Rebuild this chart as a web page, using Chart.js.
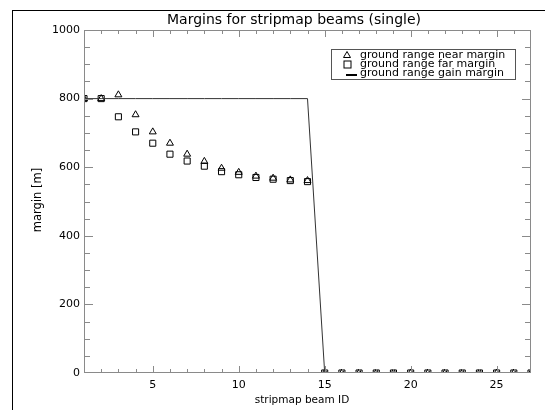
<!DOCTYPE html>
<html>
<head>
<meta charset="utf-8">
<script src="https://cdn.jsdelivr.net/npm/chart.js@4/dist/chart.umd.min.js"></script>
<style>
  html, body { margin: 0; padding: 0; background: #fff; }
  #wrap { position: relative; width: 545px; height: 410px; overflow: hidden; }
  #frame { position: absolute; left: 12px; top: 10px; width: 600px; height: 500px;
           border-left: 1px solid #000; border-top: 1px solid #000; }
  #chart { position: absolute; left: 0; top: 0; }
</style>
</head>
<body>
<div id="wrap">
  <div id="frame"></div>
  <canvas id="chart" width="545" height="410"></canvas>
</div>
<script>
// beam IDs 1..27
const beamIds = [1, 2, 3, 4, 5, 6, 7, 8, 9, 10, 11, 12, 13, 14, 15, 16, 17, 18, 19, 20, 21, 22, 23, 24, 25, 26, 27];

// margins [m]
const nearMargin = [800, 800, 811, 753, 703, 670, 638, 617, 597, 585, 574, 568, 563, 561, 0, 0, 0, 0, 0, 0, 0, 0, 0, 0, 0, 0, 0];
const farMargin  = [800, 800, 747, 703, 670, 638, 618, 603, 587, 578, 570, 565, 561, 558, 0, 0, 0, 0, 0, 0, 0, 0, 0, 0, 0, 0, 0];
const gainMargin = [800, 800, 800, 800, 800, 800, 800, 800, 800, 800, 800, 800, 800, 800, 0, 0, 0, 0, 0, 0, 0, 0, 0, 0, 0, 0, 0];

const xTickLabels = [5, 10, 15, 20, 25];
const yTickLabels = [0, 200, 400, 600, 800, 1000];
const xMinorTicks = [2, 3, 4, 5, 6, 7, 8, 9, 10, 11, 12, 13, 14, 15, 16, 17, 18, 19, 20, 21, 22, 23, 24, 25, 26];
const yMinorTicks = [50, 100, 150, 200, 250, 300, 350, 400, 450, 500, 550, 600, 650, 700, 750, 800, 850, 900, 950];

const legendItems = ['ground range near margin', 'ground range far margin', 'ground range gain margin'];

const FONT = '"DejaVu Sans", sans-serif';
const AXIS_GREY = '#8a8a8a';

function toPoints(values) {
    return beamIds.map((id, i) => ({ x: id, y: values[i] }));
}

// ==========================================================================
// IDL-style frame: box, inward ticks, title, axis titles and legend
// ==========================================================================
const idlDecor = {
    id: 'idlDecor',
    afterDatasetsDraw(chart) {
        const ctx = chart.ctx;
        const a = chart.chartArea;
        const xs = chart.scales.x;
        const ys = chart.scales.y;

        ctx.save();
        ctx.strokeStyle = AXIS_GREY;
        ctx.lineWidth = 1;
        ctx.strokeRect(a.left + 0.5, a.top + 0.5, a.right - a.left - 1, a.bottom - a.top - 1);

        ctx.beginPath();
        xMinorTicks.forEach(v => {
            const px = Math.round(xs.getPixelForValue(v)) + 0.5;
            const len = (v % 5 === 0) ? 7 : 4;
            ctx.moveTo(px, a.bottom);
            ctx.lineTo(px, a.bottom - len);
            ctx.moveTo(px, a.top);
            ctx.lineTo(px, a.top + len);
        });
        yMinorTicks.forEach(v => {
            const py = Math.round(ys.getPixelForValue(v)) + 0.5;
            const len = (v % 200 === 0) ? 9 : 6;
            ctx.moveTo(a.left, py);
            ctx.lineTo(a.left + len, py);
            ctx.moveTo(a.right, py);
            ctx.lineTo(a.right - len, py);
        });
        ctx.stroke();

        // titles
        ctx.fillStyle = '#000';
        ctx.font = '14px ' + FONT;
        ctx.textAlign = 'center';
        ctx.textBaseline = 'alphabetic';
        ctx.fillText('Margins for stripmap beams (single)', 294, 24);

        ctx.font = '10.5px ' + FONT;
        ctx.fillText('stripmap beam ID', 302, 403);

        ctx.save();
        ctx.translate(41, 200);
        ctx.rotate(-Math.PI / 2);
        ctx.font = '11.5px ' + FONT;
        ctx.fillText('margin [m]', 0, 0);
        ctx.restore();

        // legend box
        const lx = 331, ly = 49, lw = 184, lh = 30;
        ctx.fillStyle = '#fff';
        ctx.fillRect(lx, ly, lw, lh);
        ctx.strokeStyle = '#555';
        ctx.strokeRect(lx + 0.5, ly + 0.5, lw, lh);

        ctx.fillStyle = '#000';
        ctx.strokeStyle = '#000';
        ctx.font = '11px ' + FONT;
        ctx.textAlign = 'left';
        ctx.textBaseline = 'middle';
        const rowY = [55, 64, 73];
        legendItems.forEach((label, i) => {
            const cy = rowY[i];
            const cx = 347;
            ctx.beginPath();
            if (i === 0) {
                ctx.moveTo(cx, cy - 3.5);
                ctx.lineTo(cx + 3.5, cy + 2.5);
                ctx.lineTo(cx - 3.5, cy + 2.5);
                ctx.closePath();
                ctx.stroke();
            } else if (i === 1) {
                ctx.strokeRect(cx - 3.5 + 0.5, cy - 3.5 + 0.5, 7, 7);
            } else {
                ctx.lineWidth = 2;
                ctx.moveTo(cx - 1, cy + 2);
                ctx.lineTo(cx + 10, cy + 2);
                ctx.stroke();
                ctx.lineWidth = 1;
            }
            ctx.fillText(label, 360, cy);
        });
        ctx.restore();
    }
};

const ctx = document.getElementById('chart').getContext('2d');
new Chart(ctx, {
    type: 'scatter',
    data: {
        datasets: [
            {
                label: legendItems[2],
                data: toPoints(gainMargin),
                showLine: true,
                borderColor: '#333',
                borderWidth: 1,
                pointRadius: 0,
                tension: 0,
                clip: 0
            },
            {
                label: legendItems[0],
                data: toPoints(nearMargin),
                pointStyle: 'triangle',
                pointRadius: 4,
                borderColor: '#000',
                backgroundColor: 'rgba(0,0,0,0)',
                borderWidth: 1,
                clip: 0
            },
            {
                label: legendItems[1],
                data: toPoints(farMargin),
                pointStyle: 'rect',
                pointRadius: 4.3,
                borderColor: '#000',
                backgroundColor: 'rgba(0,0,0,0)',
                borderWidth: 1,
                clip: 0
            }
        ]
    },
    options: {
        responsive: false,
        animation: false,
        events: [],
        layout: { padding: { left: 0, top: 30, right: 14, bottom: 0 } },
        plugins: {
            legend: { display: false },
            title: { display: false },
            tooltip: { enabled: false }
        },
        scales: {
            x: {
                type: 'linear',
                min: 1,
                max: 27,
                grid: { display: false, drawTicks: false },
                border: { display: false },
                afterBuildTicks: scale => { scale.ticks = xTickLabels.map(v => ({ value: v })); },
                afterFit: scale => { scale.height = 37; },
                ticks: { color: '#000', font: { family: FONT, size: 11 }, padding: 6, maxRotation: 0,
                         callback: v => String(v) }
            },
            y: {
                type: 'linear',
                min: 0,
                max: 1000,
                grid: { display: false, drawTicks: false },
                border: { display: false },
                afterBuildTicks: scale => { scale.ticks = yTickLabels.map(v => ({ value: v })); },
                afterFit: scale => { scale.width = 84; },
                ticks: { color: '#000', font: { family: FONT, size: 11 }, padding: 4,
                         callback: v => String(v) }
            }
        }
    },
    plugins: [idlDecor]
});
</script>
</body>
</html>
